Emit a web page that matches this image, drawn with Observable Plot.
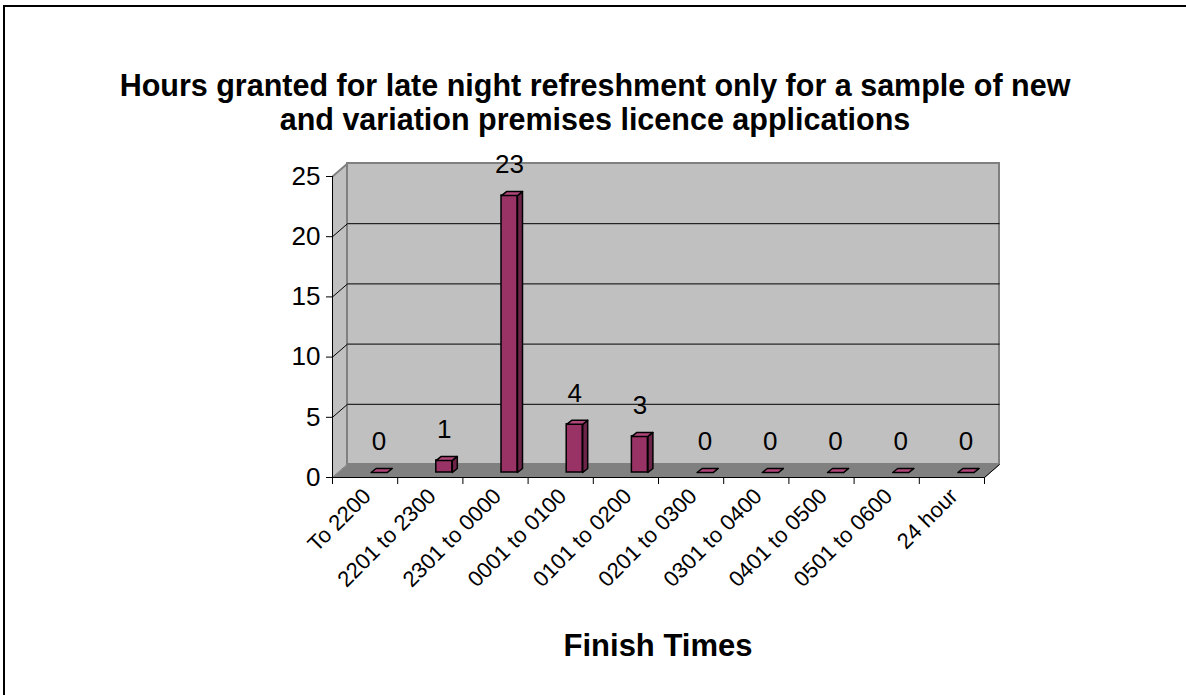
<!DOCTYPE html>
<html>
<head>
<meta charset="utf-8">
<script src="https://cdn.jsdelivr.net/npm/d3@7"></script>
<script src="https://cdn.jsdelivr.net/npm/@observablehq/plot@0.6"></script>
<style>
  html, body { margin: 0; padding: 0; background: #fff; }
  #wrap { position: relative; width: 1186px; height: 695px; overflow: hidden; font-family: Arial, "Liberation Sans", sans-serif; }
  #border { position: absolute; left: 3px; top: 5px; width: 1300px; height: 800px; border-left: 2px solid #000; border-top: 2px solid #000; }
  #chart { position: absolute; left: 0; top: 0; }
  #title { position: absolute; left: 0; width: 1190px; top: 68px; text-align: center; font-weight: bold; font-size: 30.5px; line-height: 34px; color: #000; }
  #xtitle { position: absolute; left: 0; width: 1316px; top: 630px; text-align: center; font-weight: bold; font-size: 31px; line-height: 31px; color: #000; }
</style>
</head>
<body>
<div id="wrap">
  <div id="border"></div>
  <div id="chart"></div>
  <div id="title">Hours granted for late night refreshment only for a sample of new<br>and variation premises licence applications</div>
  <div id="xtitle">Finish Times</div>
</div>
<script>
const categories = ["To 2200", "2201 to 2300", "2301 to 0000", "0001 to 0100", "0101 to 0200",
                    "0201 to 0300", "0301 to 0400", "0401 to 0500", "0501 to 0600", "24 hour"];
const counts = [0, 1, 23, 4, 3, 0, 0, 0, 0, 0];
const yTicks = [0, 5, 10, 15, 20, 25];
const gridValues = [5, 10, 15, 20];
const yMax = 25;

// layout (pixels)
const W = 1186, H = 695;
const mL = 332, mR = 202, mT = 176, mB = 218;
const n = categories.length;
const PXU = (W - mL - mR) / n;        // px per category
const PYU = (H - mT - mB) / yMax;     // px per unit
// 3D depth (converted to data units)
const WX = 15 / PXU, WY = 13 / PYU;   // wall depth
const BX = 14 / PXU, BW = 8 / PXU;    // bar shift & half width
const BY = 5 / PYU;                   // bar base lift
const CX = 5 / PXU, CY = 4 / PYU;     // bar depth

const bars = counts.map((v, i) => {
  const cx = i + 0.5 + BX;
  return {i, v, cx, x1: cx - BW, x2: cx + BW, y0: BY, top: v + BY};
});
const sides = bars.flatMap(b => [
  {id: b.i, x: b.x2, y: b.y0}, {id: b.i, x: b.x2 + CX, y: b.y0 + CY},
  {id: b.i, x: b.x2 + CX, y: b.top + CY}, {id: b.i, x: b.x2, y: b.top}
]);
const caps = bars.flatMap(b => [
  {id: b.i, x: b.x1, y: b.top}, {id: b.i, x: b.x2, y: b.top},
  {id: b.i, x: b.x2 + CX, y: b.top + CY}, {id: b.i, x: b.x1 + CX, y: b.top + CY}
]);
const sideWall = [{x: 0, y: 0}, {x: WX, y: WY}, {x: WX, y: yMax + WY}, {x: 0, y: yMax}];
const floor = [{x: 0, y: 0}, {x: n, y: 0}, {x: n + WX, y: WY}, {x: WX, y: WY}];
const backWall = [{x1: WX, x2: n + WX, y1: WY, y2: yMax + WY}];

const chart = Plot.plot({
  width: W, height: H,
  marginLeft: mL, marginRight: mR, marginTop: mT, marginBottom: mB,
  x: {domain: [0, n], axis: null},
  y: {domain: [0, yMax], axis: null},
  style: {fontFamily: "Arial, 'Liberation Sans', sans-serif", background: "transparent", overflow: "visible", color: "#000"},
  marks: [
    Plot.line(sideWall, {x: "x", y: "y", fill: "#c0c0c0", stroke: "none", curve: "linear-closed"}),
    Plot.rect(backWall, {x1: "x1", x2: "x2", y1: "y1", y2: "y2", fill: "#c0c0c0", stroke: "#808080", strokeWidth: 2}),
    Plot.link([yMax], {x1: () => 0, y1: d => d, x2: () => WX, y2: d => d + WY, stroke: "#808080", strokeWidth: 2}),
    Plot.line(floor, {x: "x", y: "y", fill: "#808080", stroke: "#808080", strokeWidth: 1, curve: "linear-closed"}),
    Plot.link(gridValues, {x1: () => WX, x2: () => n + WX, y1: d => d + WY, y2: d => d + WY, stroke: "#000", strokeWidth: 1}),
    Plot.link(gridValues, {x1: () => 0, y1: d => d, x2: () => WX, y2: d => d + WY, stroke: "#000", strokeWidth: 1}),
    Plot.link([n], {x1: d => d, y1: () => 0, x2: d => d + WX, y2: () => WY, stroke: "#000", strokeWidth: 1}),
    // axes
    Plot.ruleX([0], {y1: () => 0, y2: () => yMax, stroke: "#000", strokeWidth: 1}),
    Plot.ruleY(yTicks, {y: d => d, x1: () => 0, x2: () => -6 / PXU, stroke: "#000", strokeWidth: 1}),
    Plot.text(yTicks, {x: () => 0, y: d => d, text: d => String(d), textAnchor: "end", dx: -12, fontSize: 26, fill: "#000"}),
    Plot.ruleY([0], {x1: () => 0, x2: () => n, stroke: "#000", strokeWidth: 1}),
    Plot.ruleX(d3.range(n + 1), {x: d => d, y1: () => 0, y2: () => -7 / PYU, stroke: "#000", strokeWidth: 1}),
    Plot.text(categories, {x: (d, i) => i + 0.5, y: () => 0, text: d => d, rotate: -45, textAnchor: "end", dx: 2, dy: 15, fontSize: 22, fill: "#000"}),
    // bars
    Plot.line(sides, {x: "x", y: "y", z: "id", fill: "#6e2449", stroke: "#000", strokeWidth: 1.5, curve: "linear-closed"}),
    Plot.rect(bars, {x1: "x1", x2: "x2", y1: "y0", y2: "top", fill: "#993366", stroke: "#000", strokeWidth: 1.5}),
    Plot.line(caps, {x: "x", y: "y", z: "id", fill: "#b0467a", stroke: "#000", strokeWidth: 1.5, curve: "linear-closed"}),
    Plot.text(bars, {x: "cx", y: d => d.top + CY, text: d => String(d.v), dy: -27, fontSize: 26, fill: "#000"})
  ]
});
document.getElementById("chart").appendChild(chart);
</script>
</body>
</html>
